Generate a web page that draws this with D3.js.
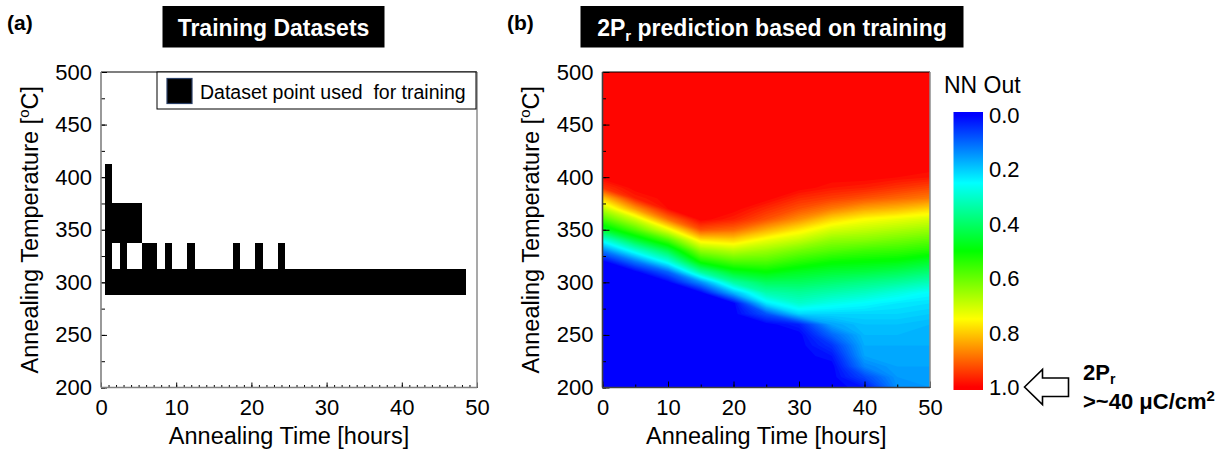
<!DOCTYPE html>
<html>
<head>
<meta charset="utf-8">
<title>Training datasets / 2Pr prediction</title>
<script src="https://cdn.jsdelivr.net/npm/d3@7"></script>
<style>
  body { margin: 0; background: #fff; }
  svg { display: block; }
</style>
</head>
<body>
<svg id="chart" width="1228" height="453"></svg>
<script>
/* ── Data ──────────────────────────────────────────────────────────── */

const timeTicks = [0, 10, 20, 30, 40, 50];
const tempTicks = [200, 250, 300, 350, 400, 450, 500];
const nnOutTicks = [0.0, 0.2, 0.4, 0.6, 0.8, 1.0];

// training set: one entry per annealing temperature, hours used at that temperature
const trainTemps = [300, 325, 350, 400];
const trainTimes = [
  [1, 2, 3, 4, 5, 6, 7, 8, 9, 10, 11, 12, 13, 14, 15, 16, 17, 18, 19, 20, 21, 22, 23, 24,
   25, 26, 27, 28, 29, 30, 31, 32, 33, 34, 35, 36, 37, 38, 39, 40, 41, 42, 43, 44, 45, 46, 47, 48],
  [1, 3, 6, 7, 9, 12, 18, 21, 24],
  [1, 2, 3, 4, 5],
  [1]
];

// NN output; columns = hours, rows = °C (200 first)
const gridTimes = [0, 5, 10, 15, 20, 25, 30, 35, 40, 45, 50];
const gridTemps = [200, 210, 220, 230, 240, 250, 260, 270, 280, 290, 300, 310, 320, 330, 340, 350,
                   360, 370, 380, 390, 400, 410, 420, 430, 440, 450, 460, 470, 480, 490, 500];
const nnOut = [
  [0, 0, 0, 0, 0, 0, 0, 0, 0.02, 0.14, 0.15],          // 200
  [0, 0, 0, 0, 0, 0, 0, 0, 0.07, 0.15, 0.155],         // 210
  [0, 0, 0, 0, 0, 0, 0, 0, 0.13, 0.16, 0.16],          // 220
  [0, 0, 0, 0, 0, 0, 0, 0.02, 0.16, 0.165, 0.165],     // 230
  [0, 0, 0, 0, 0, 0, 0, 0.05, 0.17, 0.17, 0.17],       // 240
  [0, 0, 0, 0, 0, 0, 0, 0.10, 0.18, 0.18, 0.175],      // 250
  [0, 0, 0, 0, 0, 0, 0.03, 0.16, 0.19, 0.19, 0.18],    // 260
  [0, 0, 0, 0, 0, 0.08, 0.21, 0.21, 0.21, 0.21, 0.20], // 270
  [0, 0, 0, 0, 0, 0.23, 0.30, 0.27, 0.25, 0.23, 0.22], // 280
  [0, 0, 0, 0, 0.18, 0.33, 0.35, 0.33, 0.31, 0.28, 0.25], // 290
  [0, 0, 0, 0.14, 0.34, 0.41, 0.41, 0.39, 0.37, 0.35, 0.32], // 300
  [0, 0, 0.10, 0.35, 0.47, 0.50, 0.47, 0.45, 0.44, 0.42, 0.39], // 310
  [0, 0.12, 0.28, 0.52, 0.58, 0.58, 0.54, 0.51, 0.50, 0.49, 0.46], // 320
  [0.12, 0.28, 0.42, 0.64, 0.68, 0.65, 0.61, 0.58, 0.56, 0.55, 0.53], // 330
  [0.27, 0.44, 0.57, 0.77, 0.79, 0.73, 0.69, 0.64, 0.63, 0.61, 0.59], // 340
  [0.45, 0.58, 0.73, 0.92, 0.90, 0.83, 0.77, 0.71, 0.69, 0.67, 0.65], // 350
  [0.57, 0.70, 0.89, 1, 0.97, 0.92, 0.86, 0.79, 0.75, 0.73, 0.71],    // 360
  [0.68, 0.85, 0.99, 1, 1, 0.96, 0.92, 0.88, 0.84, 0.82, 0.79],       // 370
  [0.80, 0.97, 1, 1, 1, 1, 0.96, 0.94, 0.92, 0.90, 0.88],             // 380
  [0.95, 1, 1, 1, 1, 1, 1, 0.98, 0.97, 0.95, 0.93],                   // 390
  [1, 1, 1, 1, 1, 1, 1, 1, 1, 0.99, 0.98],                            // 400
  [1, 1, 1, 1, 1, 1, 1, 1, 1, 1, 1],  // 410
  [1, 1, 1, 1, 1, 1, 1, 1, 1, 1, 1],  // 420
  [1, 1, 1, 1, 1, 1, 1, 1, 1, 1, 1],  // 430
  [1, 1, 1, 1, 1, 1, 1, 1, 1, 1, 1],  // 440
  [1, 1, 1, 1, 1, 1, 1, 1, 1, 1, 1],  // 450
  [1, 1, 1, 1, 1, 1, 1, 1, 1, 1, 1],  // 460
  [1, 1, 1, 1, 1, 1, 1, 1, 1, 1, 1],  // 470
  [1, 1, 1, 1, 1, 1, 1, 1, 1, 1, 1],  // 480
  [1, 1, 1, 1, 1, 1, 1, 1, 1, 1, 1],  // 490
  [1, 1, 1, 1, 1, 1, 1, 1, 1, 1, 1]   // 500
];

// rainbow palette of the colour bar (0 = blue ... 1 = red)
const paletteStops = [0, 0.25, 0.5, 0.75, 1];
const paletteColors = ['#0000ff', '#00ffff', '#00ff00', '#ffff00', '#ff0000'];

/* ── Setup ─────────────────────────────────────────────────────────── */

const FONT = '"Liberation Sans", Arial, Helvetica, sans-serif';
const svg = d3.select('#chart').attr('font-family', FONT);

const xA = d3.scaleLinear().domain([0, 50]).range([101, 477]);
const yA = d3.scaleLinear().domain([200, 500]).range([387.5, 72]);
const xB = d3.scaleLinear().domain([0, 50]).range([602.5, 930]);
const yB = d3.scaleLinear().domain([200, 500]).range([387.5, 72]);
const color = d3.scaleLinear().domain(paletteStops).range(paletteColors).clamp(true);

function styleAxis(sel, size) {
  sel.select('.domain').remove();
  sel.attr('font-family', FONT).attr('font-size', size);
  sel.selectAll('line').attr('stroke', '#000');
  sel.selectAll('text').attr('fill', '#000');
}

// ticks pointing into the plot, minor + major, no domain line
function drawAxes(g, x, y, o) {
  const x0 = x.range()[0], y0 = y.range()[0];
  g.append('g').attr('transform', 'translate(' + x0 + ',0)')
    .call(d3.axisLeft(y).tickValues(o.yMinor).tickSize(-o.yMinorLen).tickFormat(''))
    .call(styleAxis, 22);
  g.append('g').attr('transform', 'translate(' + x0 + ',0)')
    .call(d3.axisLeft(y).tickValues(tempTicks).tickSize(-o.yMajorLen).tickPadding(9).tickFormat(d3.format('d')))
    .call(styleAxis, 22);
  g.append('g').attr('transform', 'translate(0,' + y0 + ')')
    .call(d3.axisBottom(x).tickValues(o.xMinor).tickSize(-o.xMinorLen).tickFormat(''))
    .call(styleAxis, 22);
  g.append('g').attr('transform', 'translate(0,' + y0 + ')')
    .call(d3.axisBottom(x).tickValues(timeTicks).tickSize(-o.xMajorLen).tickPadding(12).tickFormat(d3.format('d')))
    .call(styleAxis, 22);
}

function drawFrame(g, x, y, leftCol) {
  const [l, r] = x.range(), [b, t] = y.range();
  g.append('line').attr('x1', l).attr('x2', r).attr('y1', t).attr('y2', t).attr('stroke', '#000').attr('stroke-width', 1.2);
  g.append('line').attr('x1', r).attr('x2', r).attr('y1', t).attr('y2', b).attr('stroke', '#8c8c8c').attr('stroke-width', 1.5);
  g.append('line').attr('x1', l).attr('x2', l).attr('y1', t).attr('y2', b).attr('stroke', leftCol).attr('stroke-width', 1.6);
  g.append('line').attr('x1', l).attr('x2', r).attr('y1', b).attr('y2', b).attr('stroke', leftCol).attr('stroke-width', 1.6);
}

function axisTitles(g, x, y, yTitleX) {
  g.append('text')
    .attr('x', (x.range()[0] + x.range()[1]) / 2).attr('y', 444)
    .attr('text-anchor', 'middle').attr('font-size', 23.5)
    .text('Annealing Time [hours]');
  const yt = g.append('text')
    .attr('transform', 'translate(' + yTitleX + ',' + (y.range()[0] + y.range()[1]) / 2 + ') rotate(-90)')
    .attr('text-anchor', 'middle').attr('font-size', 23.5);
  yt.append('tspan').text('Annealing Temperature [');
  yt.append('tspan').attr('font-size', 15).attr('dy', -9).text('o');
  yt.append('tspan').attr('dy', 9).text('C]');
}

function titleBox(x, w, parts) {
  svg.append('rect').attr('x', x).attr('y', 6).attr('width', w).attr('height', 41.5).attr('fill', '#000');
  const t = svg.append('text').attr('x', x + w / 2).attr('y', 35.5)
    .attr('text-anchor', 'middle').attr('font-size', 23).attr('font-weight', 'bold').attr('fill', '#fff');
  parts.forEach(p => {
    const s = t.append('tspan').text(p.text);
    if (p.sub) s.attr('font-size', 15).attr('dy', 5);
    if (p.after) s.attr('dy', -5);
  });
}

/* ── Panel (a): training datasets ──────────────────────────────────── */

const gA = svg.append('g');

// cell edges halfway between the temperature levels
const tempEdges = trainTemps.map((t, i) => {
  const lo = i === 0 ? t - 12.5 : (trainTemps[i - 1] + t) / 2;
  const hi = i === trainTemps.length - 1 ? t + 12.5 : (trainTemps[i + 1] + t) / 2;
  return { lo: lo, hi: hi };
});

const cells = [];
trainTemps.forEach((temp, i) => {
  trainTimes[i].forEach(h => cells.push({ time: h, lo: tempEdges[i].lo, hi: tempEdges[i].hi }));
});

gA.append('g').attr('shape-rendering', 'crispEdges')
  .selectAll('rect').data(cells).join('rect')
  .attr('x', d => xA(d.time - 0.5))
  .attr('width', d => xA(d.time + 0.5) - xA(d.time - 0.5))
  .attr('y', d => yA(d.hi))
  .attr('height', d => yA(d.lo) - yA(d.hi))
  .attr('fill', '#000');

drawAxes(gA, xA, yA, {
  yMinor: d3.range(200, 501, 25), yMinorLen: 4, yMajorLen: 6,
  xMinor: d3.range(0, 51, 1), xMinorLen: 2.5, xMajorLen: 5
});
drawFrame(gA, xA, yA, '#808080');
axisTitles(gA, xA, yA, 37.5);

// legend
const leg = gA.append('g');
leg.append('rect').attr('x', 157).attr('y', 72).attr('width', xA(50) - 157 - 1).attr('height', 37)
  .attr('fill', '#fff').attr('stroke', '#000').attr('stroke-width', 1);
leg.append('rect').attr('x', 167).attr('y', 78.5).attr('width', 25).attr('height', 25)
  .attr('fill', '#000').attr('stroke', '#2a3f66').attr('stroke-width', 1.2);
leg.append('text').attr('x', 200).attr('y', 99).attr('font-size', 19.5)
  .style('white-space', 'pre').text('Dataset point used  for training');

/* ── Panel (b): NN prediction map ──────────────────────────────────── */

const gB = svg.append('g');
gB.append('clipPath').attr('id', 'mapClip').append('rect')
  .attr('x', xB(0)).attr('y', yB(500))
  .attr('width', xB(50) - xB(0)).attr('height', yB(200) - yB(500));

const heat = gB.append('g').attr('clip-path', 'url(#mapClip)');
heat.append('rect')
  .attr('x', xB(0)).attr('y', yB(500))
  .attr('width', xB(50) - xB(0)).attr('height', yB(200) - yB(500))
  .attr('fill', color(0));

const nx = gridTimes.length, ny = gridTemps.length;
const dt = gridTimes[1] - gridTimes[0], dT = gridTemps[1] - gridTemps[0];
const levels = d3.range(1, 100).map(i => i / 100);
const bands = d3.contours().size([nx, ny]).thresholds(levels)(nnOut.flat());

// grid cell centres sit at (i + 0.5, j + 0.5)
const gridToScreen = d3.geoTransform({
  point: function (gx, gy) {
    this.stream.point(xB(gridTimes[0] + (gx - 0.5) * dt), yB(gridTemps[0] + (gy - 0.5) * dT));
  }
});
const bandPath = d3.geoPath(gridToScreen);

heat.selectAll('path').data(bands).join('path')
  .attr('d', bandPath)
  .attr('fill', d => color(d.value + 0.005));

drawAxes(gB, xB, yB, {
  yMinor: d3.range(200, 501, 25), yMinorLen: 3.5, yMajorLen: 7,
  xMinor: d3.range(0, 51, 5), xMinorLen: 3, xMajorLen: 6
});
drawFrame(gB, xB, yB, '#404040');
axisTitles(gB, xB, yB, 538.5);

// colour bar
const cScale = d3.scaleLinear().domain([0, 1]).range([115, 387]);
const defs = svg.append('defs');
const grad = defs.append('linearGradient').attr('id', 'nnGrad')
  .attr('gradientUnits', 'userSpaceOnUse')
  .attr('x1', 0).attr('x2', 0).attr('y1', cScale(0)).attr('y2', cScale(1));
paletteStops.forEach((s, i) => {
  grad.append('stop').attr('offset', s).attr('stop-color', paletteColors[i]);
});
svg.append('rect').attr('x', 953.5).attr('y', cScale(0) - 3)
  .attr('width', 29.5).attr('height', cScale(1) - cScale(0) + 6)
  .attr('fill', 'url(#nnGrad)');

svg.append('g').selectAll('text').data(nnOutTicks).join('text')
  .attr('x', 989).attr('y', d => cScale(d)).attr('dy', '0.36em')
  .attr('font-size', 22).text(d => d3.format('.1f')(d));

svg.append('text').attr('x', 944).attr('y', 93).attr('font-size', 23).text('NN Out');

// arrow + note at the 1.0 end of the bar
const tipX = 1024.5, tipY = cScale(1);
const arrow = [[0, 0], [18, -17.5], [18, -9], [44, -9], [44, 9.5], [18, 9.5], [18, 17.5]];
svg.append('path')
  .attr('d', d3.line()(arrow.map(p => [tipX + p[0], tipY + p[1]])) + 'Z')
  .attr('fill', '#fff').attr('stroke', '#000').attr('stroke-width', 1.6);

const note1 = svg.append('text').attr('x', 1083).attr('y', 380)
  .attr('font-size', 22).attr('font-weight', 'bold');
note1.append('tspan').text('2P');
note1.append('tspan').attr('font-size', 14).attr('dy', 4).text('r');
const note2 = svg.append('text').attr('x', 1083).attr('y', 409)
  .attr('font-size', 22).attr('font-weight', 'bold');
note2.append('tspan').text('>~40 μC/cm');
note2.append('tspan').attr('font-size', 15).attr('dy', -8).text('2');

/* ── Titles ────────────────────────────────────────────────────────── */

svg.append('text').attr('x', 7).attr('y', 30).attr('font-size', 21).attr('font-weight', 'bold').text('(a)');
svg.append('text').attr('x', 507).attr('y', 30).attr('font-size', 21).attr('font-weight', 'bold').text('(b)');

titleBox(162.5, 222, [{ text: 'Training Datasets' }]);
titleBox(580.5, 383, [
  { text: '2P' },
  { text: 'r', sub: true },
  { text: ' prediction based on training', after: true }
]);
</script>
</body>
</html>
